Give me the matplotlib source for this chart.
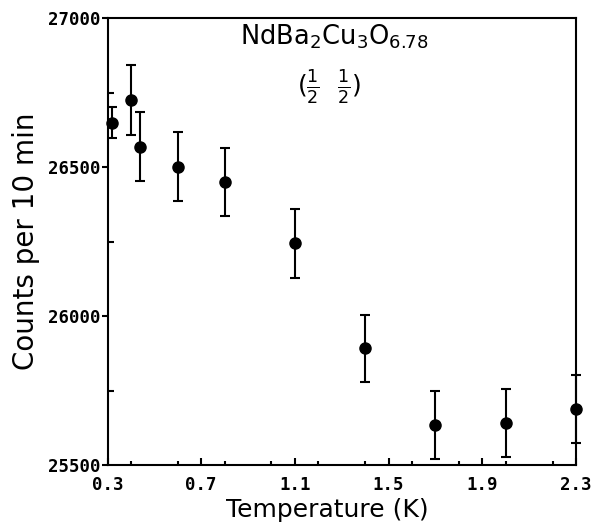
import numpy as np
import matplotlib.pyplot as plt
from matplotlib.ticker import MultipleLocator

# values
temperature = [0.32, 0.40, 0.44, 0.60, 0.80, 1.10, 1.40, 1.70, 2.00, 2.30]
counts      = [26649, 26725, 26568, 26501, 26450, 26244, 25892, 25634, 25642, 25688]
errors      = [53, 118, 116, 115, 114, 115, 112, 114, 114, 113]

x_ticks = [0.3, 0.7, 1.1, 1.5, 1.9, 2.3]
y_ticks = [25500, 26000, 26500, 27000]

fig = plt.figure(figsize=(5.92, 5.24), dpi=100)
ax = fig.add_axes([0.1816, 0.1126, 0.7914, 0.853])

ax.errorbar(temperature, counts, yerr=errors, fmt='o', color='black',
            markersize=8, elinewidth=1.5, capsize=3.8, capthick=1.5,
            clip_on=False, zorder=3)

ax.set_xlim(0.3, 2.3)
ax.set_ylim(25500, 27000)
ax.set_xticks(x_ticks)
ax.set_xticklabels(['%.1f' % t for t in x_ticks])
ax.set_yticks(y_ticks)
ax.set_yticklabels([str(v) for v in y_ticks])
ax.xaxis.set_minor_locator(MultipleLocator(0.2))
ax.yaxis.set_minor_locator(MultipleLocator(250))

for s in ax.spines.values():
    s.set_linewidth(1.5)

ax.tick_params(axis='x', which='major', direction='in', length=5, width=1.5, pad=8)
ax.tick_params(axis='x', which='minor', direction='in', length=3, width=1.5)
ax.tick_params(axis='y', which='major', direction='out', length=4, width=1.5, pad=1)
ax.tick_params(axis='y', which='minor', direction='in', length=4, width=1.5)
for lab in ax.get_xticklabels() + ax.get_yticklabels():
    lab.set_fontfamily('DejaVu Sans Mono')
    lab.set_fontweight('bold')
    lab.set_fontsize(12.5)

ax.set_xlabel('Temperature (K)', fontsize=18)
ax.xaxis.set_label_coords(0.4685, -0.073)
ax.set_ylabel('Counts per 10 min', fontsize=20, labelpad=6)

ax.text(0.483, 0.94, r'NdBa$_2$Cu$_3$O$_{6.78}$', transform=ax.transAxes,
        ha='center', va='baseline', fontsize=18.5)
ax.text(0.472, 0.846, r'$(\frac{1}{2}\ \ \frac{1}{2})$', transform=ax.transAxes,
        ha='center', va='center', fontsize=18)

plt.savefig('out.png', dpi=100)
